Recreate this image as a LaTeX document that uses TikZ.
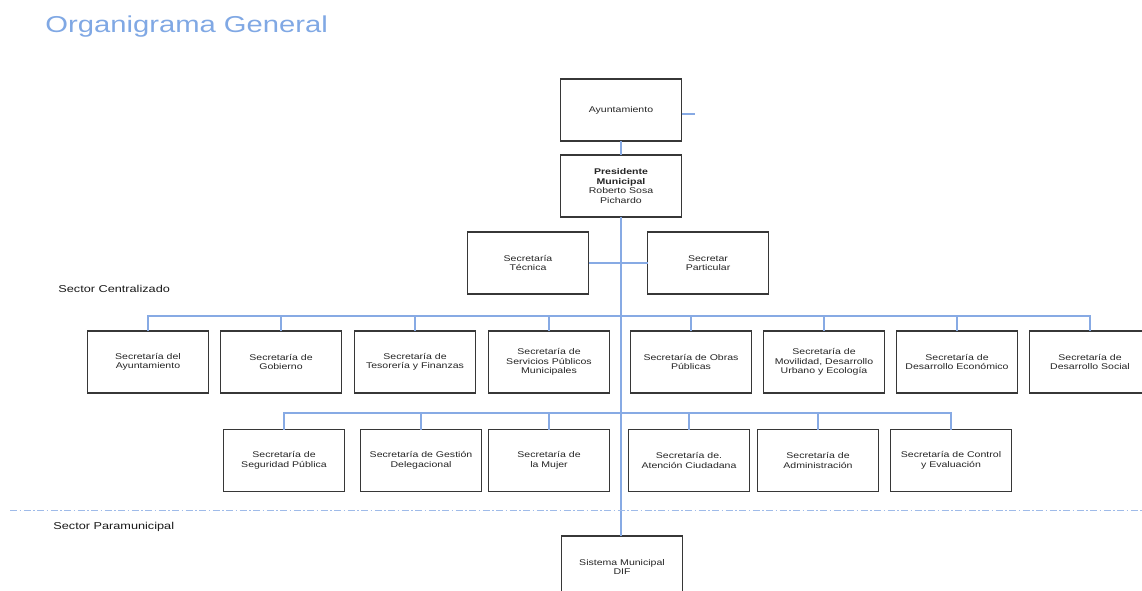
\documentclass[tikz,border=0pt]{standalone}
\usepackage{fontspec}
\setmainfont{Liberation Sans}[FakeStretch=1.27]
\usetikzlibrary{positioning}
\definecolor{titleblue}{RGB}{128,168,228}
\definecolor{lineblue}{RGB}{135,170,228}
\definecolor{boxgray}{RGB}{55,55,55}
\begin{document}
\begin{tikzpicture}[x=1pt, y=-1pt, thick,
    box/.style = {draw=boxgray, line width=1.3pt, outer sep=0pt, fill=white, minimum width=121pt, minimum height=62pt, inner sep=2pt, align=center, font=\fontsize{8.3}{9.4}\selectfont, text=black!85},
    link/.style = {draw=lineblue, line width=2pt},
    sector/.style = {font=\fontsize{10}{12}\selectfont, anchor=base west, inner sep=0pt, text=black!90}]
    \useasboundingbox (0,0) rectangle (1142,591);
    \clip (0,0) rectangle (1142,591);
    \node[anchor=base west, inner sep=0pt, text=titleblue, font=\fontsize{23}{26}\selectfont] (title) at (45,33) {Organigrama General};
    \node[box] (1) at (621,110) {Ayuntamiento};
    \node[box] (2) [below=14pt of 1] {\textbf{Presidente}\\\textbf{Municipal}\\Roberto Sosa\\Pichardo};
    \node[box] (3) at (528,263) {Secretaría\\Técnica};
    \node[box] (4) at (708,263) {Secretar\\Particular};
    \node[sector] (cent) at (58,292) {Sector Centralizado};
    \node[box] (5) at (148,362) {Secretaría del\\Ayuntamiento};
    \node[box] (6) [right=12pt of 5] {Secretaría de\\Gobierno};
    \node[box] (7) [right=13pt of 6] {Secretaría de\\Tesorería y Finanzas};
    \node[box] (8) [right=13pt of 7] {Secretaría de\\Servicios Públicos\\Municipales};
    \node[box] (9) [right=21pt of 8] {Secretaría de Obras\\Públicas};
    \node[box] (10) [right=12pt of 9] {Secretaría de\\Movilidad, Desarrollo\\Urbano y Ecología};
    \node[box] (11) [right=12pt of 10] {Secretaría de\\Desarrollo Económico};
    \node[box] (12) [right=12pt of 11] {Secretaría de\\Desarrollo Social};
    \node[box] (13) at (284,460.5) {Secretaría de\\Seguridad Pública};
    \node[box] (14) [right=16pt of 13] {Secretaría de Gestión\\Delegacional};
    \node[box] (15) [right=7pt of 14] {Secretaría de\\la Mujer};
    \node[box] (16) [right=19pt of 15] {Secretaría de.\\Atención Ciudadana};
    \node[box] (17) [right=8pt of 16] {Secretaría de\\Administración};
    \node[box] (18) [right=12pt of 17] {Secretaría de Control\\y Evaluación};
    \node[sector] (para) at (53,529) {Sector Paramunicipal};
    \node[box] (19) at (622,567) {Sistema Municipal\\DIF};
    \coordinate (stub) at (695,114);
    \coordinate (bus1) at (621,316);
    \coordinate (bus2) at (621,413);
    \coordinate (sepL) at (10,510);
    \coordinate (sepR) at (1142,510);
    \draw[link] (1.east |- stub) -- (stub);
    \draw[link] (1) -- (2);
    \draw[link] (2.south) -- (2.south |- 19.north);
    \draw[link] (3.east) -- (4.west);
    \draw[link] (5.north) |- (bus1) -| (12.north);
    \draw[link] (6.north) -- (6.north |- bus1);
    \draw[link] (7.north) -- (7.north |- bus1);
    \draw[link] (8.north) -- (8.north |- bus1);
    \draw[link] (9.north) -- (9.north |- bus1);
    \draw[link] (10.north) -- (10.north |- bus1);
    \draw[link] (11.north) -- (11.north |- bus1);
    \draw[link] (13.north) |- (bus2) -| (18.north);
    \draw[link] (14.north) -- (14.north |- bus2);
    \draw[link] (15.north) -- (15.north |- bus2);
    \draw[link] (16.north) -- (16.north |- bus2);
    \draw[link] (17.north) -- (17.north |- bus2);
    \draw[lineblue!80, line width=1pt, dash pattern=on 7pt off 2.5pt on 1.5pt off 2.5pt] (sepL) -- (sepR);
\end{tikzpicture}
\end{document}
